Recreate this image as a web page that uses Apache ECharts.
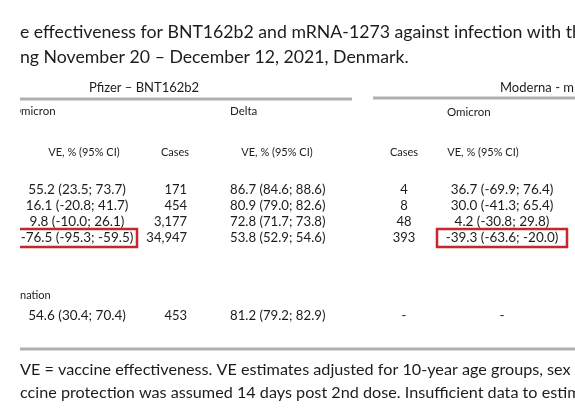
<!DOCTYPE html>
<html>
<head>
<meta charset="utf-8">
<script src="https://cdn.jsdelivr.net/npm/echarts@6/dist/echarts.min.js"></script>
<style>
  html, body { margin: 0; padding: 0; background: #fff; }
  #main { width: 575px; height: 412px; filter: blur(0.45px); }
</style>
</head>
<body>
<div id="main"></div>
<script>
"use strict";
// 表格数据 (cropped table: VE against Omicron / Delta, Denmark)
var titleLines = [
    'e effectiveness for BNT162b2 and mRNA-1273 against infection with the Omicron',
    'ng November 20 \u2013 December 12, 2021, Denmark.'
];
var groupLabels = ['Pfizer \u2013 BNT162b2', 'Moderna - mRNA-1273'];
var variantLabels = ['Omicron', 'Delta', 'Omicron'];
var columnHeaders = ['VE, % (95% CI)', 'Cases', 'VE, % (95% CI)', 'Cases', 'VE, % (95% CI)'];
var sectionLabel = 'nation';
var pfizerOmicronVE = ['55.2 (23.5; 73.7)', '16.1 (-20.8; 41.7)', '9.8 (-10.0; 26.1)', '-76.5 (-95.3; -59.5)', '54.6 (30.4; 70.4)'];
var pfizerDeltaCases = ['171', '454', '3,177', '34,947', '453'];
var pfizerDeltaVE = ['86.7 (84.6; 88.6)', '80.9 (79.0; 82.6)', '72.8 (71.7; 73.8)', '53.8 (52.9; 54.6)', '81.2 (79.2; 82.9)'];
var modernaOmicronCases = ['4', '8', '48', '393', '-'];
var modernaOmicronVE = ['36.7 (-69.9; 76.4)', '30.0 (-41.3; 65.4)', '4.2 (-30.8; 29.8)', '-39.3 (-63.6; -20.0)', '-'];
var footnoteLines = [
    'VE = vaccine effectiveness. VE estimates adjusted for 10-year age groups, sex and',
    'ccine protection was assumed 14 days post 2nd dose. Insufficient data to estimate'
];

(function (win) {
    var FONT = 'Lato';
    var INK = '#1c1c1c';
    var LINE = '#b0b0b0';
    var RED = '#c8262c';

    var rowY = [190, 206, 222, 238, 316];
    // 列: x 位置, 对齐方式, 字号
    var columns = [
        { x: 77, align: 'center', size: 13.5, data: pfizerOmicronVE },
        { x: 187, align: 'right', size: 13, data: pfizerDeltaCases },
        { x: 230, align: 'left', size: 13.2, data: pfizerDeltaVE },
        { x: 404, align: 'center', size: 13, data: modernaOmicronCases },
        { x: 502, align: 'center', size: 13.5, data: modernaOmicronVE }
    ];
    var headerPos = [84, 175, 277, 404, 483];

    function txt(str, x, y, size, align) {
        return {
            type: 'text',
            x: x, y: y,
            style: {
                text: str,
                fontFamily: FONT,
                fontSize: size,
                fill: INK,
                align: align || 'left',
                verticalAlign: 'middle'
            }
        };
    }
    function hline(x1, x2, y, w) {
        return {
            type: 'line',
            shape: { x1: x1, y1: y, x2: x2, y2: y },
            style: { stroke: LINE, lineWidth: w || 3 }
        };
    }

    var els = [];
    els.push(txt(titleLines[0], 20, 32, 17.7));
    els.push(txt(titleLines[1], 20, 57, 17.7));

    els.push(txt(groupLabels[0], 144, 88, 13, 'center'));
    els.push(txt(groupLabels[1], 500, 88, 13));
    els.push(hline(20, 352, 99));
    els.push(hline(373, 580, 98));

    els.push(txt(variantLabels[0], 12, 111, 11.5));
    els.push(txt(variantLabels[1], 230, 111, 11.5));
    els.push(txt(variantLabels[2], 447, 112, 11.5));

    for (var h = 0; h < columnHeaders.length; h++) {
        els.push(txt(columnHeaders[h], headerPos[h], 152, 11, 'center'));
    }

    for (var c = 0; c < columns.length; c++) {
        var col = columns[c];
        for (var r = 0; r < col.data.length; r++) {
            els.push(txt(col.data[r], col.x, rowY[r], col.size, col.align));
        }
    }

    els.push(txt(sectionLabel, 20, 295, 11));

    // 红框
    var boxes = [[8, 229, 129, 18], [437, 229, 130, 18]];
    for (var b = 0; b < boxes.length; b++) {
        els.push({
            type: 'rect',
            shape: { x: boxes[b][0], y: boxes[b][1], width: boxes[b][2], height: boxes[b][3] },
            style: { fill: null, stroke: RED, lineWidth: 2.5 }
        });
    }

    els.push(hline(20, 580, 349));
    els.push(txt(footnoteLines[0], 20, 370, 16.2));
    els.push(txt(footnoteLines[1], 20, 393, 16.2));

    // 左侧白边 (裁切)
    els.push({
        type: 'rect',
        z: 100,
        shape: { x: 0, y: 0, width: 20, height: 412 },
        style: { fill: '#fff' }
    });

    var chart = echarts.init(document.getElementById('main'));
    chart.setOption({
        backgroundColor: '#fff',
        animation: false,
        graphic: { elements: els }
    });
    win.addEventListener('resize', function () { chart.resize(); });
})(window);
</script>
</body>
</html>
